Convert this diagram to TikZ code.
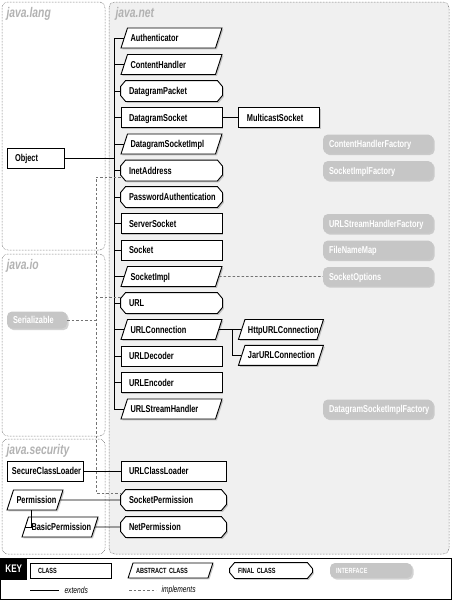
\documentclass[tikz,border=0pt]{standalone}
\usepackage{fontspec}
\usetikzlibrary{positioning,calc,shapes.geometric,shadows}
\newfontfamily\condfont[FakeStretch=0.74]{Liberation Sans}
\definecolor{netfill}{HTML}{F0F0F0}
\definecolor{pkggray}{HTML}{B2B2B2}
\definecolor{ifacefill}{HTML}{C6C6C6}
\definecolor{ifaceshade}{HTML}{A6A6A6}

% rectangle with cut corners on both ends, for final classes
\makeatletter
\pgfdeclareshape{finalbox}{%
  \inheritsavedanchors[from=rectangle]%
  \inheritanchorborder[from=rectangle]%
  \inheritanchor[from=rectangle]{center}%
  \inheritanchor[from=rectangle]{north}%
  \inheritanchor[from=rectangle]{south}%
  \inheritanchor[from=rectangle]{east}%
  \inheritanchor[from=rectangle]{west}%
  \inheritanchor[from=rectangle]{north east}%
  \inheritanchor[from=rectangle]{north west}%
  \inheritanchor[from=rectangle]{south east}%
  \inheritanchor[from=rectangle]{south west}%
  \inheritanchor[from=rectangle]{text}%
  \inheritanchor[from=rectangle]{base}%
  \inheritanchor[from=rectangle]{mid}%
  \backgroundpath{%
    \southwest \pgf@xa=\pgf@x \pgf@ya=\pgf@y
    \northeast \pgf@xb=\pgf@x \pgf@yb=\pgf@y
    \pgfpathmoveto{\pgfqpoint{\dimexpr\pgf@xa+5pt\relax}{\pgf@ya}}%
    \pgfpathlineto{\pgfqpoint{\dimexpr\pgf@xb-5pt\relax}{\pgf@ya}}%
    \pgfpathlineto{\pgfqpoint{\pgf@xb}{\dimexpr\pgf@ya+6pt\relax}}%
    \pgfpathlineto{\pgfqpoint{\pgf@xb}{\dimexpr\pgf@yb-6pt\relax}}%
    \pgfpathlineto{\pgfqpoint{\dimexpr\pgf@xb-5pt\relax}{\pgf@yb}}%
    \pgfpathlineto{\pgfqpoint{\dimexpr\pgf@xa+5pt\relax}{\pgf@yb}}%
    \pgfpathlineto{\pgfqpoint{\pgf@xa}{\dimexpr\pgf@yb-6pt\relax}}%
    \pgfpathlineto{\pgfqpoint{\pgf@xa}{\dimexpr\pgf@ya+6pt\relax}}%
    \pgfpathclose
  }%
}
\makeatother

\begin{document}
\begin{tikzpicture}[x=1pt,y=-1pt,
    box/.style={draw,line width=0.9pt,fill=white,
      inner ysep=6.5pt,align=left,text height=7pt,text depth=0pt,
      font=\condfont\bfseries\fontsize{10}{11}\selectfont,
      drop shadow={shadow xshift=1.4pt,shadow yshift=-1.4pt,fill=black!40}},
    class/.style={box,rectangle,inner xsep=8pt,text width=#1},
    class/.default=85pt,
    abstract/.style={box,trapezium,trapezium left angle=72,trapezium right angle=108,
      inner xsep=3pt,text width=#1},
    abstract/.default=82pt,
    final/.style={box,shape=finalbox,inner xsep=8pt,text width=#1},
    final/.default=85pt,
    iface/.style={rectangle,rounded corners=5pt,fill=ifacefill,text=white,
      minimum height=19pt,inner xsep=6pt,inner ysep=0pt,align=left,
      text height=7pt,text depth=0pt,text width=#1,
      font=\condfont\bfseries\fontsize{10}{11}\selectfont,
      drop shadow={shadow xshift=1.6pt,shadow yshift=-1.6pt,fill=ifaceshade}},
    iface/.default=98pt,
    keyfont/.style={font=\condfont\bfseries\fontsize{7.5}{8}\selectfont,
      inner ysep=4.75pt,text height=5.5pt},
    pkg/.style={draw=black!75,densely dotted,line width=0.5pt,rounded corners=6pt},
    pkgname/.style={anchor=west,text=pkggray,
      font=\condfont\bfseries\itshape\fontsize{14}{16}\selectfont},
    ext/.style={line width=0.9pt},
    impl/.style={black!55,line width=0.6pt,dash pattern=on 2.5pt off 2pt}
  ]
  \useasboundingbox (0,0) rectangle (452,600);
  % ---- packages ----
  \draw[pkg,fill=netfill] (109,2) rectangle (449,554);
  \draw[pkg] (2,2) rectangle (105,250);
  \draw[pkg] (2,254) rectangle (105,436);
  \draw[pkg] (2,439) rectangle (105,554);
  \node[pkgname] (langname) at (3,14) {java.lang};
  \node[pkgname] (netname) at (112,14) {java.net};
  \node[pkgname] (ioname) at (3,266) {java.io};
  \node[pkgname] (secname) at (3,451) {java.security};

  % ---- java.net column ----
  \foreach \n/\t/\s [count=\i from 0] in {
      auth/Authenticator/abstract, chandler/ContentHandler/abstract,
      dgpacket/DatagramPacket/final, dgsocket/DatagramSocket/class,
      dgsimpl/DatagramSocketImpl/abstract, inet/InetAddress/final,
      pwauth/PasswordAuthentication/final, ssocket/ServerSocket/class,
      socket/Socket/class, simpl/SocketImpl/abstract, url/URL/final,
      urlconn/URLConnection/abstract, urldec/URLDecoder/class,
      urlenc/URLEncoder/class, urlsh/URLStreamHandler/abstract}
    \node[\s] (\n) at (171.5,38+26.5*\i) {\t};
  \node[class=65pt,right=16pt of dgsocket] (msocket) {MulticastSocket};
  \node[abstract=66pt,right=22pt of urlconn] (httpconn) {HttpURLConnection};
  \node[abstract=66pt,below=5pt of httpconn] (jarconn) {JarURLConnection};

  % ---- interfaces ----
  \foreach \n/\t/\y in {chfactory/ContentHandlerFactory/144,
      sifactory/SocketImplFactory/170.5, ushfactory/URLStreamHandlerFactory/223.5,
      fnmap/FileNameMap/250, sockopt/SocketOptions/276.5,
      dsifactory/DatagramSocketImplFactory/409}
    \node[iface] (\n) at (378,\y) {\t};

  % ---- other packages ----
  \node[class=41pt] (object) at (35.5,158) {Object};
  \node[iface=48pt,minimum height=17pt] (serial) at (37,320) {Serializable};
  \node[class=66pt,inner xsep=5pt] (scloader) at (45,471) {SecureClassLoader};
  \node[abstract=37pt] (perm) at (35,500) {Permission};
  \node[abstract=57pt] (bperm) at (60,527) {BasicPermission};
  \node[class=89pt] (uloader) at (173.5,471) {URLClassLoader};
  \node[final=89pt] (sockperm) at (173.5,500) {SocketPermission};
  \node[final=89pt] (netperm) at (173.5,527) {NetPermission};

  % ---- extends ----
  \coordinate (trunk) at (114,38);
  \draw[ext] (auth.west -| trunk) -- (urlsh.west -| trunk);
  \foreach \n in {auth,chandler,dgpacket,dgsocket,dgsimpl,inet,pwauth,ssocket,
      socket,simpl,url,urlconn,urldec,urlenc,urlsh}
    \draw[ext] (\n.west) -- (\n.west -| trunk);
  \draw[ext] (object.east) -- (object.east -| trunk);
  \draw[ext] (dgsocket.east) -- (msocket.west);
  \coordinate (connfork) at ($(urlconn.east)!0.6!(httpconn.west)$);
  \draw[ext] (urlconn.east) -- (httpconn.west);
  \draw[ext] (connfork) |- (jarconn.west);
  \draw[ext] (scloader.east) -- (uloader.west);
  \draw[ext] (perm.east) -- (sockperm.west);
  \draw[ext] (bperm.east) -- (netperm.west);
  \draw[ext] ([xshift=7pt]perm.south west) |- (bperm.west);

  % ---- implements ----
  \coordinate (serbus) at (96,320);
  \coordinate (inetjoin) at ([yshift=-6.5pt]inet.west);
  \coordinate (urljoin) at ([yshift=6pt]url.west);
  \coordinate (permjoin) at ([yshift=7pt]sockperm.west);
  \draw[impl] (serial.east) -- (serial.east -| serbus);
  \draw[impl] (inetjoin) -- (inetjoin -| serbus) -- (permjoin -| serbus) -- (permjoin);
  \draw[impl] (urljoin) -- (urljoin -| serbus);
  \draw[impl] (simpl.east) -- (sockopt.west);

  % ---- key ----
  \draw[line width=0.8pt] (0.5,558) rectangle (451.5,599.5);
  \fill[black] (0.5,558) rectangle (27,580);
  \node[text=white,font=\condfont\bfseries\fontsize{11}{12}\selectfont] (keyname) at (13.75,569) {KEY};
  \node[class=65pt,keyfont] (keyclass) at (70.5,570.5) {CLASS};
  \node[abstract=69pt,keyfont] (keyabstract) at (170.5,570.5) {ABSTRACT CLASS};
  \node[final=66pt,keyfont] (keyfinal) at (271,570.5) {FINAL CLASS};
  \node[iface=70pt,keyfont,minimum height=15pt] (keyiface) at (371,570.5) {INTERFACE};
  \node[anchor=west,font=\condfont\itshape\fontsize{9}{10}\selectfont] (extlabel) at (61,590) {extends};
  \node[anchor=west,font=\condfont\itshape\fontsize{9}{10}\selectfont] (impllabel) at (158,590) {implements};
  \coordinate (extstart) at (30,590);
  \coordinate (implstart) at (129,590);
  \draw[ext] (extstart) -- ([xshift=-2pt]extlabel.west);
  \draw[impl] (implstart) -- ([xshift=-2pt]impllabel.west);
\end{tikzpicture}
\end{document}
